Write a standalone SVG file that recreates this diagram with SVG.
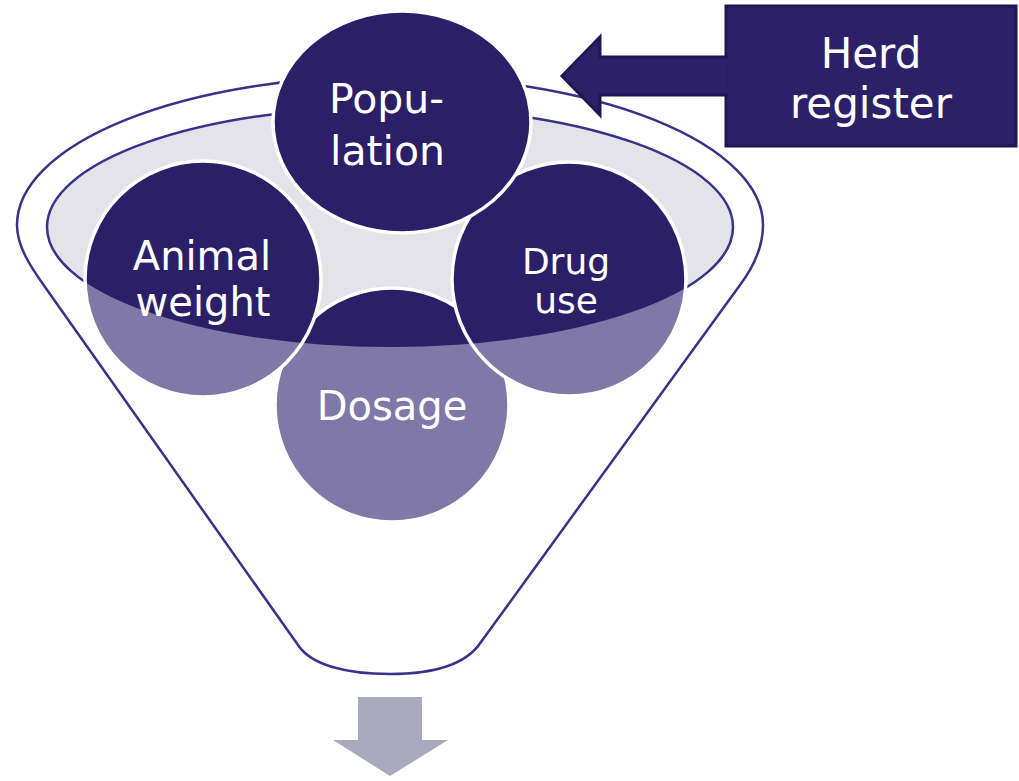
<svg xmlns="http://www.w3.org/2000/svg" width="1019" height="781" viewBox="0 0 1019 781">
  <style>
    .outline { fill: #ffffff; stroke: #3a3189; stroke-width: 2.5; }
    .rim { fill: #e3e3e9; stroke: #3a3189; stroke-width: 2.5; }
    .light { fill: #8078a6; }
    .dark { fill: #2b2068; }
    .ring { fill: none; stroke: #ffffff; stroke-width: 3.5; }
    .lbl { font-family: "DejaVu Sans", Verdana, sans-serif; fill: #ffffff; }
    .box { fill: #2c2168; stroke: #1e1752; stroke-width: 3; }
    .down { fill: #a9a8bd; }
  </style>
  <defs>
    <clipPath id="rimClip">
      <ellipse cx="390" cy="227" rx="343" ry="120"/>
    </clipPath>
  </defs>
  <rect width="1019" height="781" fill="#ffffff"/>

  <g id="funnel">
    <path class="outline" d="M 17 225 A 373 149 0 0 1 763 225 C 763 245 755 265 740 285 L 481 642 C 466 665 432 674 390 674 C 346 674 311 665 298 645 L 45 287 C 30 266 17 246 17 225 Z"/>
    <ellipse class="rim" cx="390" cy="227" rx="343" ry="120"/>
  </g>

  <g id="dosage">
    <circle class="light" cx="392" cy="405" r="117"/>
    <circle class="dark" cx="392" cy="405" r="117" clip-path="url(#rimClip)"/>
    <circle class="ring" cx="392" cy="405" r="117"/>
    <text class="lbl" x="392" y="420" font-size="40" text-anchor="middle">Dosage</text>
  </g>

  <g id="animal-weight">
    <circle class="light" cx="203" cy="279" r="118"/>
    <circle class="dark" cx="203" cy="279" r="118" clip-path="url(#rimClip)"/>
    <circle class="ring" cx="203" cy="279" r="118"/>
    <text class="lbl" x="202" y="270" font-size="40" text-anchor="middle">Animal</text>
    <text class="lbl" x="203" y="316" font-size="40" text-anchor="middle">weight</text>
  </g>

  <g id="drug-use">
    <circle class="light" cx="569" cy="279" r="117"/>
    <circle class="dark" cx="569" cy="279" r="117" clip-path="url(#rimClip)"/>
    <circle class="ring" cx="569" cy="279" r="117"/>
    <text class="lbl" x="566" y="274" font-size="36" text-anchor="middle">Drug</text>
    <text class="lbl" x="566" y="313" font-size="36" text-anchor="middle">use</text>
  </g>

  <g id="population">
    <ellipse class="dark" cx="402" cy="122" rx="129" ry="111"/>
    <ellipse class="ring" cx="402" cy="122" rx="129" ry="111"/>
    <text class="lbl" x="329" y="113" font-size="41">Popu-</text>
    <text class="lbl" x="330" y="165" font-size="41">lation</text>
  </g>

  <g id="herd-register">
    <rect class="box" x="726" y="6" width="290" height="140"/>
    <text class="lbl" x="871" y="68" font-size="42" text-anchor="middle">Herd</text>
    <text class="lbl" x="871" y="118" font-size="42" text-anchor="middle">register</text>
  </g>

  <g id="connectors">
    <path class="box" d="M 727.5 57 L 600 57 L 600 37 L 562 76 L 600 115 L 600 95 L 727.5 95"/>
    <polygon class="down" points="358,697 422,697 422,740 448,740 390,776 333,740 358,740"/>
  </g>
</svg>
